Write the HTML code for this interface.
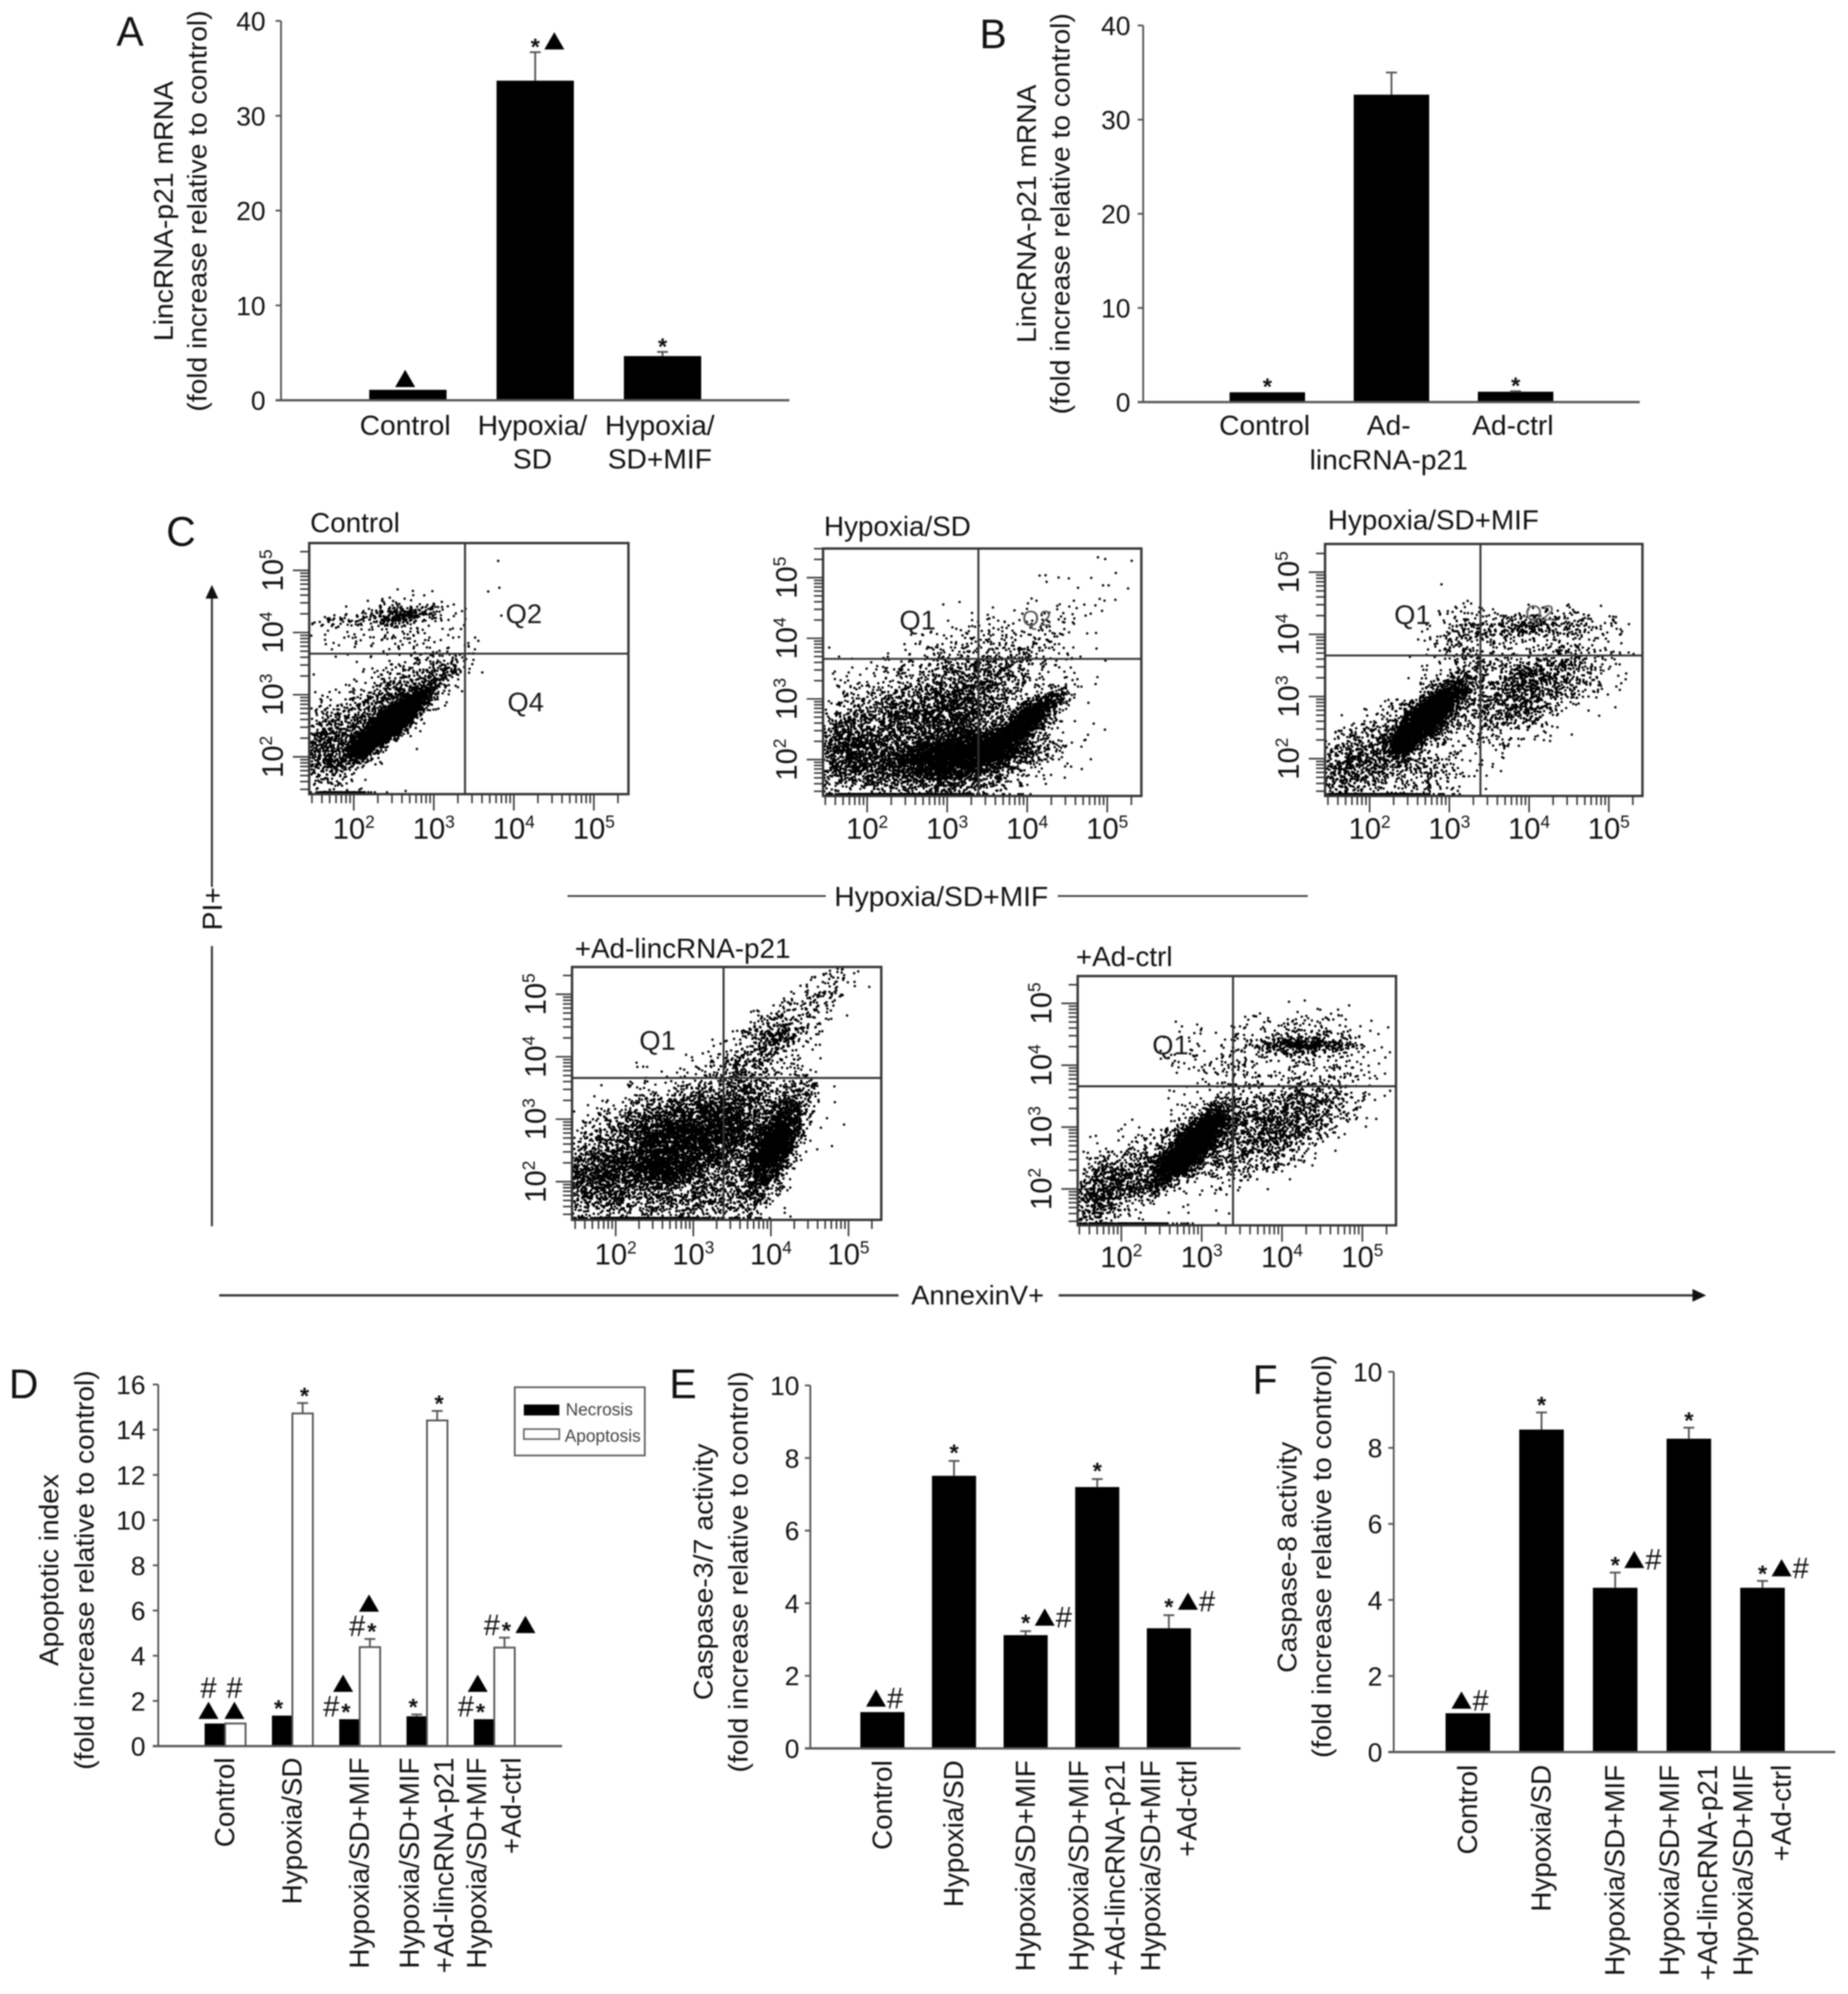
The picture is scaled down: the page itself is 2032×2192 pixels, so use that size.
<!DOCTYPE html>
<html lang="en">
<head>
<meta charset="utf-8">
<title>LincRNA-p21 multi-panel figure</title>
<style>
html,body{margin:0;padding:0;background:#fff;}
#figure{display:block;filter:blur(0.8px);font-family:"Liberation Sans",Arial,sans-serif;fill:#111;}
</style>
</head>
<body>
<svg id="figure" xmlns="http://www.w3.org/2000/svg" width="2032" height="2192" viewBox="0 0 2032 2192">
  <rect x="0" y="0" width="2032" height="2192" fill="#fff"/>
  <text x="143" y="50" font-size="45" text-anchor="middle">A</text>
  <text x="1092" y="53" font-size="45" text-anchor="middle">B</text>
  <text x="199" y="600" font-size="45" text-anchor="middle">C</text>
  <text x="26" y="1537" font-size="45" text-anchor="middle">D</text>
  <text x="751" y="1537" font-size="45" text-anchor="middle">E</text>
  <text x="1391" y="1532" font-size="45" text-anchor="middle">F</text>

  <g>
    <line x1="233" y1="650" x2="233" y2="975" stroke="#333" stroke-width="2.2"/>
    <polygon points="233,643 226,658 240,658" fill="#111"/>
    <text transform="translate(244,999) rotate(-90)" font-size="31" text-anchor="middle">PI+</text>
    <line x1="233" y1="1040" x2="233" y2="1348" stroke="#333" stroke-width="2.2"/>
  </g>
  <g>
    <line x1="241" y1="1424" x2="988" y2="1424" stroke="#333" stroke-width="2.4"/>
    <text x="1075" y="1434" font-size="30" text-anchor="middle">AnnexinV+</text>
    <line x1="1164" y1="1424" x2="1864" y2="1424" stroke="#333" stroke-width="2.4"/>
    <polygon points="1876,1424 1861,1417 1861,1431" fill="#111"/>
  </g>
  <g>
    <line x1="624" y1="985" x2="908" y2="985" stroke="#444" stroke-width="2"/>
    <text x="1035" y="996" font-size="31" text-anchor="middle">Hypoxia/SD+MIF</text>
    <line x1="1163" y1="985" x2="1438" y2="985" stroke="#444" stroke-width="2"/>
  </g>
  <g>
    <rect x="566" y="1525" width="143" height="75" fill="#fff" stroke="#666" stroke-width="2"/>
    <rect x="576" y="1544" width="39" height="12" fill="#000"/>
    <text x="622" y="1556" font-size="19" fill="#444">Necrosis</text>
    <rect x="576" y="1571" width="39" height="11" fill="#fff" stroke="#555" stroke-width="1.6"/>
    <text x="621" y="1585" font-size="19" fill="#444">Apoptosis</text>
  </g>
</svg>

<script>
/* ---------- Panel A ---------- */
const categoriesA = [['Control'], ['Hypoxia/', 'SD'], ['Hypoxia/', 'SD+MIF']];
const valuesA = [1.1, 33.7, 4.66];
const errorTopsA = [null, 36.7, 5.1];
const annotationsA = [[['▲']], [['*', '▲']], [['*']]];
const yTicksA = [0, 10, 20, 30, 40];

/* ---------- Panel B ---------- */
const categoriesB = [['Control'], ['Ad-', 'lincRNA-p21'], ['Ad-ctrl']];
const valuesB = [1.04, 32.65, 1.1];
const errorTopsB = [null, 35, 1.15];
const annotationsB = [[['*']], [], [['*']]];
const yTicksB = [0, 10, 20, 30, 40];

/* ---------- Panel D ---------- */
const categoriesD = [['Control'], ['Hypoxia/SD'], ['Hypoxia/SD+MIF'], ['Hypoxia/SD+MIF', '+Ad-lincRNA-p21'], ['Hypoxia/SD+MIF', '+Ad-ctrl']];
const necrosisD = [1.0, 1.35, 1.19, 1.32, 1.19];
const necrosisTopsD = [null, null, null, 1.4, null];
const necrosisAnnotationsD = [[['▲'], ['#']], [['*']], [['#', '*'], ['▲']], [['*']], [['#', '*'], ['▲']]];
const apoptosisD = [1.0, 14.72, 4.38, 14.41, 4.36];
const apoptosisTopsD = [null, 15.18, 4.74, 14.83, 4.8];
const apoptosisAnnotationsD = [[['▲'], ['#']], [['*']], [['#', '*'], ['▲']], [['*']], [['#', '*', '▲']]];
const yTicksD = [0, 2, 4, 6, 8, 10, 12, 14, 16];

/* ---------- Panel E ---------- */
const categoriesE = [['Control'], ['Hypoxia/SD'], ['Hypoxia/SD+MIF'], ['Hypoxia/SD+MIF', '+Ad-lincRNA-p21'], ['Hypoxia/SD+MIF', '+Ad-ctrl']];
const valuesE = [1.0, 7.51, 3.12, 7.2, 3.31];
const errorTopsE = [null, 7.92, 3.23, 7.42, 3.67];
const annotationsE = [[['▲', '#']], [['*']], [['*', '▲', '#']], [['*']], [['*', '▲', '#']]];
const yTicksE = [0, 2, 4, 6, 8, 10];

/* ---------- Panel F ---------- */
const categoriesF = [['Control'], ['Hypoxia/SD'], ['Hypoxia/SD+MIF'], ['Hypoxia/SD+MIF', '+Ad-lincRNA-p21'], ['Hypoxia/SD+MIF', '+Ad-ctrl']];
const valuesF = [1.02, 8.48, 4.32, 8.24, 4.32];
const errorTopsF = [null, 8.93, 4.72, 8.53, 4.5];
const annotationsF = [[['▲', '#']], [['*']], [['*', '▲', '#']], [['*']], [['*', '▲', '#']]];
const yTicksF = [0, 2, 4, 6, 8, 10];

/* ---------- Panel C: estimated populations on log10 axes ----------
   each row: centre x, centre y, spread x, spread y, correlation, event count */
const logDecades = [2, 3, 4, 5];
const gateAnnexinLog = 3.39;
const gatePiLog = 3.66;
const populationsControl = [
  [2.43, 2.52, 0.23, 0.25, 0.88, 4500],
  [1.74, 2.13, 0.24, 0.38, 0.1, 700],
  [2.47, 2.90, 0.42, 0.40, 0.72, 800],
  [2.59, 4.28, 0.24, 0.08, 0.3, 260],
  [2.50, 4.10, 0.42, 0.26, 0.2, 200],
  [1.74, 4.17, 0.20, 0.05, 0, 35],
  [3.20, 3.42, 0.14, 0.16, 0.8, 70],
  [3.80, 5.15, 0.01, 0.01, 0, 1],
  [3.80, 4.72, 0.01, 0.01, 0, 1],
  [1.90, 1.36, 0.20, 0.01, 0, 80]
];
const populationsHypoxia = [
  [3.17, 2.07, 0.48, 0.18, 0.3, 3000],
  [3.89, 2.52, 0.26, 0.28, 0.88, 1800],
  [2.88, 2.67, 0.60, 0.50, 0.2, 3000],
  [1.80, 2.12, 0.25, 0.35, 0, 1000],
  [3.55, 3.60, 0.50, 0.38, 0.4, 550],
  [4.30, 4.30, 0.45, 0.45, 0.7, 60],
  [2.88, 1.68, 0.55, 0.18, 0, 700],
  [2.40, 1.36, 0.50, 0.01, 0, 300]
];
const populationsMif = [
  [2.70, 2.64, 0.22, 0.28, 0.85, 3200],
  [2.70, 2.64, 0.40, 0.45, 0.75, 1000],
  [4.00, 3.10, 0.48, 0.44, 0.6, 1400],
  [4.00, 4.15, 0.45, 0.12, 0.1, 380],
  [3.13, 3.86, 0.20, 0.30, 0, 200],
  [1.75, 1.90, 0.25, 0.35, 0.5, 600],
  [2.55, 1.80, 0.35, 0.25, 0, 300],
  [2.10, 1.36, 0.30, 0.01, 0, 200]
];
const populationsLinc = [
  [4.04, 2.57, 0.20, 0.42, 0.7, 2300],
  [2.75, 2.67, 0.60, 0.42, 0.3, 3500],
  [2.60, 2.18, 0.22, 0.12, 0, 500],
  [1.80, 2.04, 0.30, 0.30, 0, 1000],
  [3.38, 2.90, 0.45, 0.50, 0.4, 1800],
  [4.00, 4.27, 0.35, 0.40, 0.7, 550],
  [4.08, 4.30, 0.08, 0.08, 0, 40],
  [4.78, 5.15, 0.20, 0.20, 0.6, 70],
  [2.98, 1.70, 0.50, 0.20, 0, 500],
  [2.40, 1.36, 0.45, 0.01, 0, 300]
];
const populationsCtrl = [
  [2.87, 2.69, 0.20, 0.28, 0.85, 3000],
  [2.87, 2.69, 0.40, 0.40, 0.75, 1300],
  [1.80, 2.00, 0.28, 0.35, 0.55, 900],
  [4.00, 3.03, 0.48, 0.44, 0.65, 1400],
  [4.30, 4.33, 0.32, 0.07, 0.1, 350],
  [4.30, 4.40, 0.42, 0.25, 0, 280],
  [3.25, 4.00, 0.35, 0.30, 0, 170],
  [2.10, 1.36, 0.30, 0.01, 0, 200]
];

const SVG_NS = 'http://www.w3.org/2000/svg';
const root = document.getElementById('figure');

function make(tag, attrs, parent, text) {
  const el = document.createElementNS(SVG_NS, tag);
  for (const k in attrs) el.setAttribute(k, attrs[k]);
  if (text !== undefined) el.textContent = text;
  parent.appendChild(el);
  return el;
}

function drawAnnotations(parent, rows, cx, topY, gap) {
  rows.forEach(function (row, r) {
    const cy = topY - gap - r * 25;
    const starIndex = row.indexOf('*');
    row.forEach(function (glyph, i) {
      let gx;
      if (starIndex >= 0) {
        gx = cx + (i - starIndex) * (i < starIndex ? 16 : 21);
      } else if (row.length === 1) {
        gx = cx - 3;
      } else {
        gx = cx - (row.length - 1) * 7 + i * 21;
      }
      if (glyph === '▲') {
        const tri = make('polygon', { points: (gx - 11) + ',' + (cy + 9) + ' ' + (gx + 11) + ',' + (cy + 9) + ' ' + gx + ',' + (cy - 10), fill: '#000' }, parent);
        
        
      } else if (glyph === '#') {
        const hash = make('text', { x: gx, y: cy + 11, 'font-size': 32, 'text-anchor': 'middle' }, parent, '#');
        
        
      } else {
        const star = make('text', { x: gx, y: cy + 15, 'font-size': 26, 'font-weight': 'bold', 'text-anchor': 'middle' }, parent, '*');
        
        
      }
    });
  });
}

function drawBarChart(c) {
  const g = make('g', {}, root);
  
  
  const yMax = c.yTicks[c.yTicks.length - 1];
  const yPos = function (v) { return c.y0 - v * (c.y0 - c.yTop) / yMax; };

  c.series.forEach(function (s, si) {
    s.values.forEach(function (v, i) {
      const left = c.start + i * c.step + si * c.barWidth;
      const cx = left + c.barWidth / 2;
      const bar = make('rect', { x: left, y: yPos(v), width: c.barWidth, height: c.y0 - yPos(v), fill: s.fill, stroke: s.stroke, 'stroke-width': s.strokeWidth }, g);
      
      
      const top = s.tops[i];
      if (top !== null) {
        const stem = make('line', { x1: cx, x2: cx, y1: yPos(v), y2: yPos(top), stroke: '#555', 'stroke-width': 2 }, g);
        
        
        const cap = make('line', { x1: cx - 6, x2: cx + 6, y1: yPos(top), y2: yPos(top), stroke: '#555', 'stroke-width': 2 }, g);
        
        
      }
      drawAnnotations(g, s.annotations[i], cx + s.annotationDx, yPos(top !== null ? top : v), c.annotationGap);
    });
  });

  const yAxis = make('line', { x1: c.axisX, x2: c.axisX, y1: c.yTop, y2: c.y0, stroke: '#555', 'stroke-width': 2 }, g);
  
  
  const xAxis = make('line', { x1: c.axisX - 6, x2: c.xEnd, y1: c.y0, y2: c.y0, stroke: '#555', 'stroke-width': 2.4 }, g);
  
  

  c.yTicks.forEach(function (t) {
    const tick = make('line', { x1: c.axisX - 6, x2: c.axisX, y1: yPos(t), y2: yPos(t), stroke: '#555', 'stroke-width': 2 }, g);
    
    
    const label = make('text', { x: c.tickRight, y: yPos(t) + 10.5, 'font-size': 29, 'text-anchor': 'end' }, g, String(t));
    
    
  });

  c.titles.forEach(function (t) {
    const title = make('text', { transform: 'translate(' + (t.x + 10) + ',' + t.y + ') rotate(-90)', 'font-size': 30, 'text-anchor': 'middle', textLength: t.length, lengthAdjust: 'spacingAndGlyphs' }, g, t.text);
    
    
  });

  const groupWidth = c.barWidth * c.series.length;
  c.categories.forEach(function (lines, i) {
    const cx = c.start + i * c.step + groupWidth / 2 + c.labelDx;
    lines.forEach(function (line, li) {
      let label;
      if (c.verticalLabels) {
        const lx = cx + (li - (lines.length - 1) / 2) * c.labelGap + 10;
        label = make('text', { transform: 'translate(' + lx + ',' + c.labelY + ') rotate(-90)', 'font-size': 30.6, 'text-anchor': 'end' }, g, line);
      } else {
        label = make('text', { x: cx, y: c.labelY + li * c.labelGap, 'font-size': 31, 'text-anchor': 'middle' }, g, line);
      }
      
      
    });
  });
}

drawBarChart({
  name: 'panel-a-bar-chart', categories: categoriesA, yTicks: yTicksA,
  series: [{ name: 'lincrna', values: valuesA, tops: errorTopsA, annotations: annotationsA, annotationDx: 0, fill: '#000', stroke: '#000', strokeWidth: 0 }],
  axisX: 309, xEnd: 868, y0: 440, yTop: 23, start: 406, step: 140, barWidth: 85, tickRight: 292, annotationGap: 12,
  labelDx: -3, labelY: 478, labelGap: 37, verticalLabels: false,
  titles: [{ x: 180, y: 232, length: 286, text: 'LincRNA-p21 mRNA' }, { x: 217, y: 232, length: 441, text: '(fold increase relative to control)' }]
});
drawBarChart({
  name: 'panel-b-bar-chart', categories: categoriesB, yTicks: yTicksB,
  series: [{ name: 'lincrna', values: valuesB, tops: errorTopsB, annotations: annotationsB, annotationDx: 0, fill: '#000', stroke: '#000', strokeWidth: 0 }],
  axisX: 1257, xEnd: 1803, y0: 442, yTop: 28, start: 1352, step: 136.5, barWidth: 83, tickRight: 1243, annotationGap: 12,
  labelDx: -3, labelY: 478, labelGap: 38, verticalLabels: false,
  titles: [{ x: 1129, y: 235, length: 284, text: 'LincRNA-p21 mRNA' }, { x: 1166, y: 235, length: 441, text: '(fold increase relative to control)' }]
});
drawBarChart({
  name: 'panel-d-bar-chart', categories: categoriesD, yTicks: yTicksD,
  series: [
    { name: 'necrosis', values: necrosisD, tops: necrosisTopsD, annotations: necrosisAnnotationsD, annotationDx: -4, fill: '#000', stroke: '#000', strokeWidth: 0 },
    { name: 'apoptosis', values: apoptosisD, tops: apoptosisTopsD, annotations: apoptosisAnnotationsD, annotationDx: 2, fill: '#fff', stroke: '#555', strokeWidth: 2 }
  ],
  axisX: 174, xEnd: 618, y0: 1919.5, yTop: 1522, start: 225, step: 74, barWidth: 22.5, tickRight: 160, annotationGap: 14,
  labelDx: 0, labelY: 1932, labelGap: 38, verticalLabels: true,
  titles: [{ x: 54, y: 1726, length: 211, text: 'Apoptotic index' }, { x: 93, y: 1726, length: 439, text: '(fold increase relative to control)' }]
});
drawBarChart({
  name: 'panel-e-bar-chart', categories: categoriesE, yTicks: yTicksE,
  series: [{ name: 'caspase-3-7', values: valuesE, tops: errorTopsE, annotations: annotationsE, annotationDx: 0, fill: '#000', stroke: '#000', strokeWidth: 0 }],
  axisX: 891, xEnd: 1364, y0: 1922, yTop: 1523, start: 946, step: 78.75, barWidth: 48.5, tickRight: 879, annotationGap: 15,
  labelDx: 0, labelY: 1935, labelGap: 40, verticalLabels: true,
  titles: [{ x: 773.5, y: 1728, length: 282, text: 'Caspase-3/7 activity' }, { x: 812, y: 1728, length: 441, text: '(fold increase relative to control)' }]
});
drawBarChart({
  name: 'panel-f-bar-chart', categories: categoriesF, yTicks: yTicksF,
  series: [{ name: 'caspase-8', values: valuesF, tops: errorTopsF, annotations: annotationsF, annotationDx: 0, fill: '#000', stroke: '#000', strokeWidth: 0 }],
  axisX: 1532.5, xEnd: 2018, y0: 1926, yTop: 1508, start: 1589.5, step: 81, barWidth: 49, tickRight: 1520, annotationGap: 14,
  labelDx: 0, labelY: 1940, labelGap: 42, verticalLabels: true,
  titles: [{ x: 1415.6, y: 1712, length: 254, text: 'Caspase-8 activity' }, { x: 1453.6, y: 1711, length: 443, text: '(fold increase relative to control)' }]
});

/* Seeded generator: turns each estimated population into a cloud of dots. */
function seededGenerator(seed) {
  let s = seed >>> 0;
  return function () {
    s = (s + 0x6D2B79F5) >>> 0;
    let t = s;
    t = Math.imul(t ^ (t >>> 15), t | 1);
    t ^= t + Math.imul(t ^ (t >>> 7), t | 61);
    return ((t ^ (t >>> 14)) >>> 0) / 4294967296;
  };
}

function drawFlowPlot(p) {
  const g = make('g', {}, root);
  
  
  const dx = (p.xTick5 - p.xTick2) / 3;
  const dy = (p.yTick2 - p.yTick5) / 3;
  const xPos = function (v) { return p.xTick2 + (v - 2) * dx; };
  const yPos = function (v) { return p.yTick2 - (v - 2) * dy; };
  const rng = seededGenerator(p.seed);
  const gauss = function () {
    return Math.sqrt(-2 * Math.log(1 - rng())) * Math.cos(2 * Math.PI * rng());
  };

  const box = p.box;
  p.populations.forEach(function (pop) {
    let d = '';
    for (let i = 0; i < pop[5]; i++) {
      const a = gauss();
      const b = gauss();
      const px = xPos(pop[0] + pop[2] * a);
      let py = yPos(pop[1] + pop[3] * (pop[4] * a + Math.sqrt(1 - pop[4] * pop[4]) * b));
      if (px < box[0] + 1 || px > box[2] - 1 || py < box[1] + 1) continue;
      if (py > box[3] - 2) py = box[3] - 2;
      d += 'M' + px.toFixed(1) + ' ' + py.toFixed(1) + 'h0';
    }
    const dots = make('path', { d: d, fill: 'none', stroke: '#000', 'stroke-width': 2.7, 'stroke-linecap': 'round' }, g);
    
    
  });

  const frame = make('rect', { x: box[0], y: box[1], width: box[2] - box[0], height: box[3] - box[1], fill: 'none', stroke: '#333', 'stroke-width': 2.6 }, g);
  
  
  const vGate = make('line', { x1: xPos(gateAnnexinLog), x2: xPos(gateAnnexinLog), y1: box[1], y2: box[3], stroke: '#333', 'stroke-width': 2.2 }, g);
  
  
  const hGate = make('line', { x1: box[0], x2: box[2], y1: yPos(gatePiLog), y2: yPos(gatePiLog), stroke: '#333', 'stroke-width': 2.2 }, g);
  
  

  for (let d = 1; d <= 5; d++) {
    for (let k = 1; k <= 9; k++) {
      const lv = d + Math.log10(k);
      const len = k === 1 ? 18 : 10;
      const tx = xPos(lv);
      const ty = yPos(lv);
      if (tx >= box[0] && tx <= box[2]) {
        const xt = make('line', { x1: tx, x2: tx, y1: box[3], y2: box[3] + len, stroke: '#333', 'stroke-width': 1.7 }, g);
        
        
      }
      if (ty >= box[1] && ty <= box[3]) {
        const yt = make('line', { x1: box[0] - len, x2: box[0], y1: ty, y2: ty, stroke: '#333', 'stroke-width': 1.7 }, g);
        
        
      }
    }
  }

  logDecades.forEach(function (dec) {
    const xLabel = make('text', { x: xPos(dec), y: p.labelY, 'font-size': 32, 'text-anchor': 'middle' }, g, '10');
    
    
    const xSup = make('tspan', { dy: -12, 'font-size': 19 }, xLabel, String(dec));
    
    
    const yLabel = make('text', { transform: 'translate(' + (box[0] - 29) + ',' + yPos(dec) + ') rotate(-90)', 'font-size': 32, 'text-anchor': 'middle' }, g, '10');
    
    
    const ySup = make('tspan', { dy: -12, 'font-size': 19 }, yLabel, String(dec));
    
    
  });

  const title = make('text', { x: p.titleX, y: p.titleY, 'font-size': 30.6 }, g, p.title);
  
  

  p.quadrants.forEach(function (q) {
    const label = make('text', { x: q.x, y: q.y, 'font-size': q.size, 'text-anchor': 'middle', fill: q.color }, g, q.text);
    
    
  });
}

drawFlowPlot({
  name: 'flow-plot-control', title: 'Control', titleX: 341, titleY: 585, labelY: 922, seed: 11,
  box: [340, 597, 691, 873], xTick2: 389, xTick5: 653, yTick2: 832, yTick5: 627, populations: populationsControl,
  quadrants: [{ text: 'Q2', x: 576, y: 685, size: 30, color: '#1a1a1a' }, { text: 'Q4', x: 578, y: 782, size: 30, color: '#1a1a1a' }]
});
drawFlowPlot({
  name: 'flow-plot-hypoxia-sd', title: 'Hypoxia/SD', titleX: 906, titleY: 589, labelY: 922, seed: 23,
  box: [905, 603, 1255, 875], xTick2: 953.5, xTick5: 1217.5, yTick2: 835, yTick5: 635, populations: populationsHypoxia,
  quadrants: [{ text: 'Q1', x: 1009, y: 692, size: 30, color: '#1a1a1a' }, { text: 'Q2', x: 1140, y: 688, size: 24, color: '#555' }]
});
drawFlowPlot({
  name: 'flow-plot-hypoxia-sd-mif', title: 'Hypoxia/SD+MIF', titleX: 1460, titleY: 582, labelY: 922, seed: 37,
  box: [1457, 598, 1806, 875], xTick2: 1506, xTick5: 1769, yTick2: 834, yTick5: 629, populations: populationsMif,
  quadrants: [{ text: 'Q1', x: 1553, y: 686, size: 30, color: '#1a1a1a' }, { text: 'Q2', x: 1693, y: 682, size: 24, color: '#666' }]
});
drawFlowPlot({
  name: 'flow-plot-ad-lincrna-p21', title: '+Ad-lincRNA-p21', titleX: 632, titleY: 1053, labelY: 1390, seed: 41,
  box: [629, 1063, 969, 1341], xTick2: 677, xTick5: 933, yTick2: 1299, yTick5: 1093, populations: populationsLinc,
  quadrants: [{ text: 'Q1', x: 723, y: 1154, size: 30, color: '#1a1a1a' }]
});
drawFlowPlot({
  name: 'flow-plot-ad-ctrl', title: '+Ad-ctrl', titleX: 1183, titleY: 1062, labelY: 1393, seed: 53,
  box: [1185, 1073, 1535, 1347], xTick2: 1233, xTick5: 1498, yTick2: 1307, yTick5: 1103, populations: populationsCtrl,
  quadrants: [{ text: 'Q1', x: 1287, y: 1159, size: 30, color: '#1a1a1a' }]
});
</script>
</body>
</html>
